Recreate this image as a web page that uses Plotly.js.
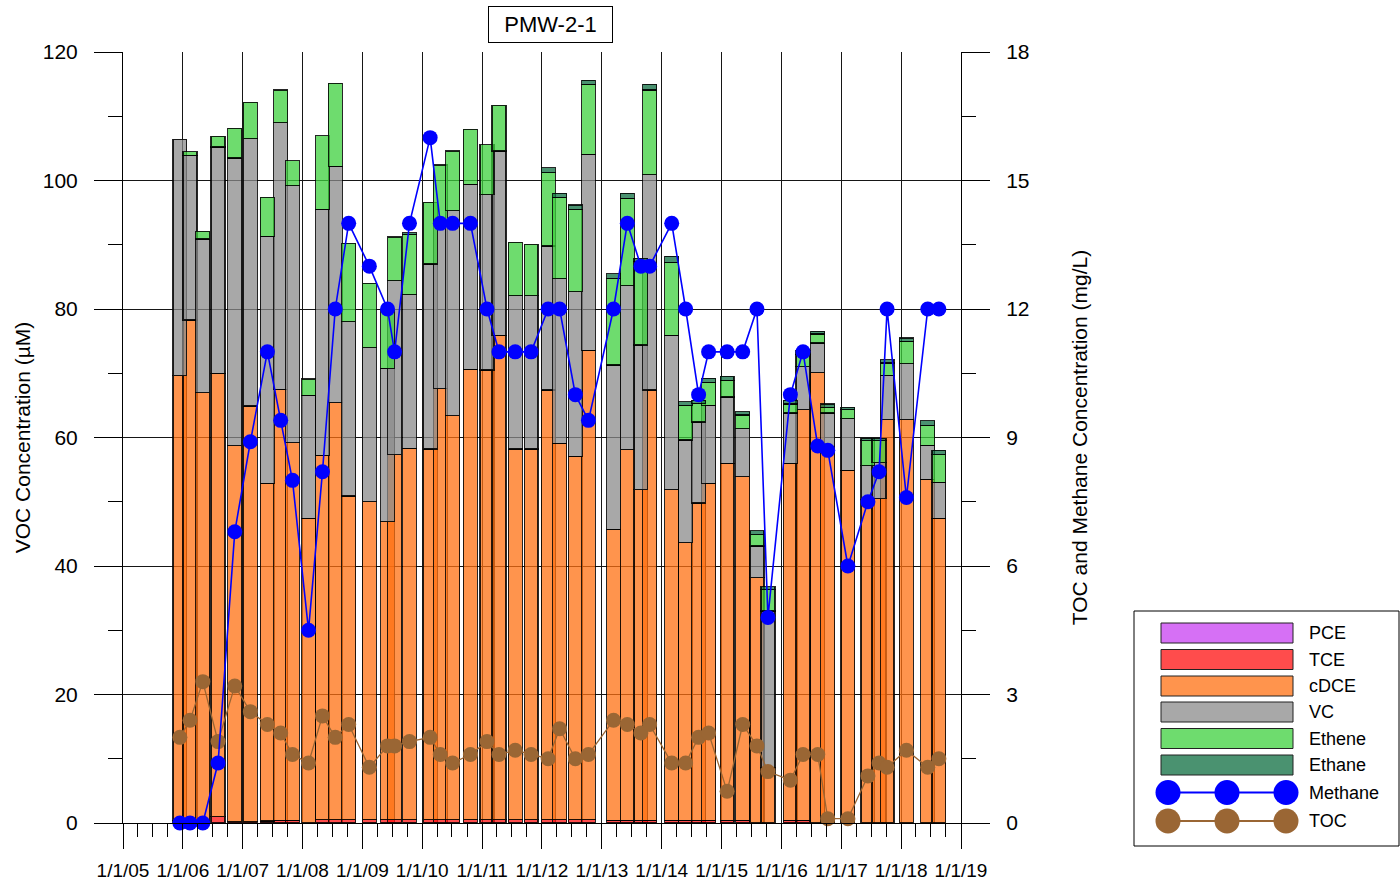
<!DOCTYPE html>
<html>
<head>
<meta charset="utf-8">
<script src="https://cdn.plot.ly/plotly-3.0.1.min.js"></script>
<style>
  html, body { margin: 0; padding: 0; background: #ffffff; }
  #chart { width: 1400px; height: 884px; }
</style>
</head>
<body>
<div id="chart"></div>
<script>
// Sampling events at well PMW-2-1
const sampleDates = [
  '2005-12-14','2006-02-14','2006-05-03','2006-08-04','2006-11-14',
  '2007-02-17','2007-06-01','2007-08-21','2007-11-01',
  '2008-02-07','2008-05-02','2008-07-19','2008-10-09',
  '2009-02-12','2009-06-03','2009-07-16','2009-10-15',
  '2010-02-18','2010-04-21','2010-07-05','2010-10-22',
  '2011-01-31','2011-04-14','2011-07-22','2011-10-27',
  '2012-02-08','2012-04-18','2012-07-23','2012-10-11',
  '2013-03-13','2013-06-05','2013-08-27','2013-10-19',
  '2014-03-03','2014-05-27','2014-08-14','2014-10-14',
  '2015-02-04','2015-05-10','2015-08-05','2015-10-11',
  '2016-02-25','2016-05-12','2016-08-10','2016-10-10',
  '2017-02-10','2017-06-12','2017-08-19','2017-10-07',
  '2018-02-02','2018-06-12','2018-08-19'
];

// VOC concentrations (µM)
const pce = [
  0,0,0,0,0, 0,0,0,0, 0,0,0,0, 0,0,0,0, 0,0,0,0, 0,0,0,0, 0,0,0,0,
  0,0,0,0, 0,0,0,0, 0,0,0,0, 0,0,0,0, 0,0,0,0, 0,0,0
];
const tce = [
  0.4,0.4,0.4,1.0,0.2, 0.2,0.3,0.4,0.4, 0.0,0.5,0.5,0.5, 0.5,0.5,0.5,0.5,
  0.5,0.5,0.5,0.5, 0.5,0.5,0.5,0.5, 0.5,0.5,0.5,0.5, 0.4,0.4,0.4,0.4,
  0.4,0.4,0.4,0.4, 0.4,0.4,0.0,0.0, 0.4,0.4,0.0,0.0, 0.0,0.0,0.0,0.0, 0.0,0.0,0.0
];
const cdce = [
  69.2,77.9,66.6,69.0,58.5, 64.7,52.6,67.1,58.8, 47.4,56.7,64.9,50.4,
  49.5,46.4,56.8,57.8, 57.7,67.1,62.9,70.1, 70.0,75.4,57.7,57.7,
  66.9,58.6,56.6,73.1, 45.3,57.7,51.5,67.0, 51.5,43.2,49.4,52.5,
  55.6,53.5,38.2,8.7, 55.6,63.9,70.1,58.6, 54.9,50.4,50.5,62.8,
  62.8,53.5,47.4
];
const vc = [
  36.8,25.6,23.9,35.2,44.8, 41.6,38.4,41.5,40.0, 19.2,38.3,36.8,27.1,
  24.0,23.9,27.1,23.9, 28.8,25.9,31.9,28.8, 27.3,28.7,23.9,23.9,
  22.4,25.6,25.6,30.5, 25.6,25.5,22.5,33.5, 24.0,16.0,12.6,12.1,
  10.3,7.5,4.9,24.3, 7.8,6.7,4.6,5.2, 8.0,5.2,5.6,6.9,
  8.7,5.3,5.6
];
const ethene = [
  0.0,0.6,1.2,1.7,4.6, 5.7,6.1,5.1,3.9, 2.5,11.5,12.9,12.2,
  10.0,9.0,6.8,9.4, 9.6,8.9,9.3,8.6, 7.8,7.1,8.3,8.0,
  11.4,12.7,12.8,10.9, 13.5,13.6,13.0,13.2, 11.4,5.4,2.9,3.6,
  2.6,2.1,1.8,3.3, 1.4,1.9,1.4,0.9, 1.4,3.9,3.4,1.9,
  3.5,3.1,4.3
];
const ethane = [
  0.0,0.0,0.0,0.0,0.0, 0.0,0.0,0.0,0.0, 0.0,0.0,0.0,0.0,
  0.0,0.0,0.0,0.3, 0.0,0.0,0.0,0.0, 0.0,0.0,0.0,0.0,
  0.8,0.6,0.7,0.6, 0.7,0.8,0.5,0.9, 0.9,0.6,0.5,0.6,
  0.6,0.5,0.6,0.5, 0.6,0.6,0.4,0.5, 0.4,0.4,0.4,0.5,
  0.5,0.7,0.7
];

// Dissolved gases / organic carbon (mg/L)
const methane = [
  0,0,0,1.4,6.8, 8.9,11,9.4,8.0, 4.5,8.2,12,14,
  13,12,11,14, 16,14,14,14, 12,11,11,11,
  12,12,10,9.4, 12,14,13,13, 14,12,10,11,
  11,11,12,4.8, 10,11,8.8,8.7, 6.0,7.5,8.2,12,
  7.6,12,12
];
const toc = [
  2.0,2.4,3.3,1.9,3.2, 2.6,2.3,2.1,1.6, 1.4,2.5,2.0,2.3,
  1.3,1.8,1.8,1.9, 2.0,1.6,1.4,1.6, 1.9,1.6,1.7,1.6,
  1.5,2.2,1.5,1.6, 2.4,2.3,2.1,2.3, 1.4,1.4,2.0,2.1,
  0.74,2.3,1.8,1.2, 1.0,1.6,1.6,0.1, 0.1,1.1,1.4,1.3,
  1.7,1.3,1.5
];

// Axis ticks
const yearTickDates = [
  '2005-01-01','2006-01-01','2007-01-01','2008-01-01','2009-01-01',
  '2010-01-01','2011-01-01','2012-01-01','2013-01-01','2014-01-01',
  '2015-01-01','2016-01-01','2017-01-01','2018-01-01','2019-01-01'
];
const yearTickText = [
  '1/1/05','1/1/06','1/1/07','1/1/08','1/1/09','1/1/10','1/1/11',
  '1/1/12','1/1/13','1/1/14','1/1/15','1/1/16','1/1/17','1/1/18','1/1/19'
];

const FONT = 'Arial, "Liberation Sans", sans-serif';
const DAY_MS = 86400000;
const BAR_WIDTH = 85 * DAY_MS;

// Stacked VOC components, bottom to top
const vocSeries = [
  { name: 'PCE',    values: pce,    fill: 'rgba(200,64,242,0.75)', solid: '#d670f5' },
  { name: 'TCE',    values: tce,    fill: 'rgba(255,16,16,0.75)',  solid: '#ff4c4c' },
  { name: 'cDCE',   values: cdce,   fill: 'rgba(255,112,18,0.75)', solid: '#ff944d' },
  { name: 'VC',     values: vc,     fill: 'rgba(139,139,139,0.75)',solid: '#a8a8a8' },
  { name: 'Ethene', values: ethene, fill: 'rgba(62,208,62,0.75)',  solid: '#6edc6e' },
  { name: 'Ethane', values: ethane, fill: 'rgba(14,110,64,0.75)',  solid: '#4a9270' }
];
const lineSeries = [
  { name: 'Methane', values: methane, color: '#0000ff', width: 1.6 },
  { name: 'TOC',     values: toc,     color: '#9a6634', width: 1.3 }
];

const traces = [];
vocSeries.forEach(s => {
  traces.push({
    type: 'bar',
    name: s.name,
    x: sampleDates,
    y: s.values.map(v => (v === 0 ? null : v)),
    width: sampleDates.map(() => BAR_WIDTH),
    marker: { color: s.fill, line: { color: 'rgba(0,0,0,0.85)', width: 1.2 } },
    yaxis: 'y',
    showlegend: false,
    hoverinfo: 'skip'
  });
});
// TOC beneath methane
[lineSeries[1], lineSeries[0]].forEach(s => {
  traces.push({
    type: 'scatter',
    mode: 'lines+markers',
    name: s.name,
    x: sampleDates,
    y: s.values,
    yaxis: 'y2',
    line: { color: s.color, width: s.width },
    marker: { color: s.color, size: 15 },
    cliponaxis: false,
    showlegend: false,
    hoverinfo: 'skip'
  });
});

// Plot-area geometry (px) used to place the legend box and title frame
const M = { l: 123, r: 439, t: 52, b: 61 };
const W = 1400, H = 884;
const PW = W - M.l - M.r, PH = H - M.t - M.b;
const px = x => (x - M.l) / PW;
const py = y => (H - M.b - y) / PH;

const shapes = [];
const annotations = [];

// Legend frame
shapes.push({ type: 'rect', xref: 'paper', yref: 'paper', layer: 'above',
  x0: px(1134), x1: px(1399), y0: py(846), y1: py(611),
  line: { color: '#000', width: 1 }, fillcolor: 'rgba(0,0,0,0)' });

const rowY = [633, 659.5, 686, 712, 738.5, 765, 792.5, 821];
vocSeries.forEach((s, i) => {
  const cy = rowY[i];
  shapes.push({ type: 'rect', xref: 'paper', yref: 'paper', layer: 'above',
    x0: px(1161), x1: px(1293), y0: py(cy + 10), y1: py(cy - 10),
    line: { color: '#222', width: 1 }, fillcolor: s.solid });
  annotations.push({ xref: 'paper', yref: 'paper', x: px(1307), y: py(cy),
    xanchor: 'left', yanchor: 'middle', showarrow: false, text: s.name,
    font: { family: FONT, size: 18, color: '#000' } });
});
lineSeries.forEach((s, j) => {
  const cy = rowY[vocSeries.length + j];
  shapes.push({ type: 'line', xref: 'paper', yref: 'paper', layer: 'above',
    x0: px(1168), x1: px(1286), y0: py(cy), y1: py(cy),
    line: { color: s.color, width: 2 } });
  [1168, 1227, 1286].forEach(cx => {
    shapes.push({ type: 'circle', xref: 'paper', yref: 'paper', layer: 'above',
      x0: px(cx - 12.5), x1: px(cx + 12.5), y0: py(cy + 12.5), y1: py(cy - 12.5),
      line: { color: s.color, width: 0 }, fillcolor: s.color });
  });
  annotations.push({ xref: 'paper', yref: 'paper', x: px(1307), y: py(cy),
    xanchor: 'left', yanchor: 'middle', showarrow: false, text: s.name,
    font: { family: FONT, size: 18, color: '#000' } });
});

// Boxed chart title
annotations.push({ xref: 'paper', yref: 'paper', x: px(550.5), y: py(24.5),
  xanchor: 'center', yanchor: 'middle', showarrow: false, text: 'PMW-2-1',
  width: 123, height: 35, borderpad: 0, borderwidth: 1, bordercolor: '#000',
  bgcolor: '#fff', font: { family: FONT, size: 22, color: '#000' } });

const layout = {
  width: W, height: H,
  margin: M,
  paper_bgcolor: '#fff', plot_bgcolor: '#fff',
  font: { family: FONT, color: '#000' },
  barmode: 'stack', bargap: 0,
  showlegend: false,
  xaxis: {
    type: 'date',
    range: ['2005-01-01', '2019-01-01'],
    tickmode: 'array', tickvals: yearTickDates, ticktext: yearTickText,
    ticks: 'outside', ticklen: 25, tickwidth: 1, tickcolor: '#000',
    tickfont: { family: FONT, size: 19, color: '#000' },
    ticklabelstandoff: 5,
    showgrid: true, gridcolor: '#161616', gridwidth: 1,
    showline: true, linecolor: '#000', linewidth: 1,
    zeroline: false,
    minor: { dtick: 'M3', tick0: '2005-01-01', ticks: 'outside', ticklen: 13,
             tickwidth: 1, tickcolor: '#000', showgrid: false }
  },
  yaxis: {
    range: [0, 120],
    tickmode: 'linear', tick0: 0, dtick: 20,
    ticks: 'outside', ticklen: 28, tickwidth: 1, tickcolor: '#000',
    tickfont: { family: FONT, size: 21, color: '#000' },
    ticklabelstandoff: 12,
    showgrid: true, gridcolor: '#161616', gridwidth: 1,
    showline: true, linecolor: '#000', linewidth: 1,
    zeroline: false,
    minor: { dtick: 10, ticks: 'outside', ticklen: 14, tickwidth: 1,
             tickcolor: '#000', showgrid: false },
    title: { text: 'VOC Concentration (µM)', font: { family: FONT, size: 21 }, standoff: 6 }
  },
  yaxis2: {
    overlaying: 'y', side: 'right',
    range: [0, 18],
    tickmode: 'linear', tick0: 0, dtick: 3,
    ticks: 'outside', ticklen: 28, tickwidth: 1, tickcolor: '#000',
    tickfont: { family: FONT, size: 21, color: '#000' },
    ticklabelstandoff: 12,
    showgrid: false,
    showline: true, linecolor: '#000', linewidth: 1,
    zeroline: false,
    minor: { dtick: 1.5, ticks: 'outside', ticklen: 14, tickwidth: 1,
             tickcolor: '#000', showgrid: false },
    title: { text: 'TOC and Methane Concentration (mg/L)', font: { family: FONT, size: 21 }, standoff: 43 }
  },
  shapes: shapes,
  annotations: annotations
};

Plotly.newPlot('chart', traces, layout, { staticPlot: true, displayModeBar: false });
</script>
</body>
</html>
